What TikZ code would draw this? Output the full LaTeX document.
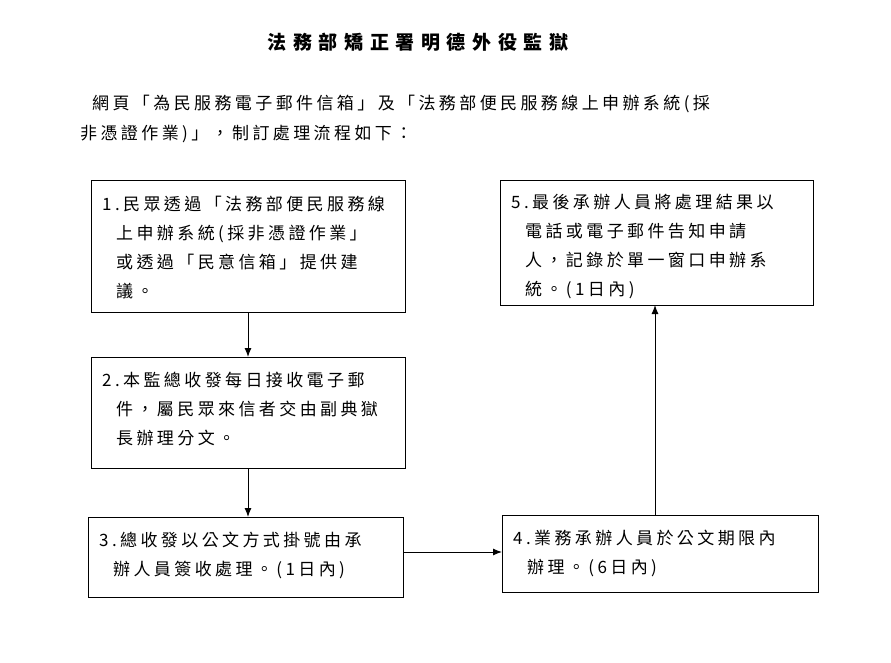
\documentclass[tikz,border=0pt]{standalone}
\usepackage{fontspec}
\usetikzlibrary{arrows.meta}
\newfontfamily\cjk[LetterSpace=20]{Noto Sans CJK TC}
\newfontfamily\cjkt[LetterSpace=35]{Noto Sans CJK TC}
\begin{document}
\begin{tikzpicture}[x=1pt,y=-1pt,
  box/.style={draw,line width=0.9pt},
  txt/.style={anchor=north west,align=left,inner sep=0pt,font=\cjk\fontsize{17}{29}\selectfont},
  arr/.style={-{Latex[length=9pt,width=7pt]},line width=1pt}]
\useasboundingbox (0,0) rectangle (891,663);
\node[font=\cjkt\fontsize{19}{22}\selectfont\bfseries] (title) at (418,42) {法務部矯正署明德外役監獄};
\node[txt,anchor=west] (intro1) at (92,104) {網頁「為民服務電子郵件信箱」及「法務部便民服務線上申辦系統(採};
\node[txt,anchor=west] (intro2) at (80,134) {非憑證作業)」，制訂處理流程如下：};
\draw[box] (91,180) rectangle (405,312);
\coordinate (b1b) at (248,312);
\node[txt] (t1) at (102,196) {1.民眾透過「法務部便民服務線\\\hspace*{14pt}上申辦系統(採非憑證作業」\\\hspace*{14pt}或透過「民意信箱」提供建\\\hspace*{14pt}議。};
\draw[box] (91,357) rectangle (405,468);
\coordinate (b2t) at (248,357); \coordinate (b2b) at (248,468);
\node[txt] (t2) at (102,372) {2.本監總收發每日接收電子郵\\\hspace*{14pt}件，屬民眾來信者交由副典獄\\\hspace*{14pt}長辦理分文。};
\draw[box] (88,517) rectangle (403,597);
\coordinate (b3t) at (248,517); \coordinate (b3r) at (403,552);
\node[txt] (t3) at (99,532) {3.總收發以公文方式掛號由承\\\hspace*{14pt}辦人員簽收處理。(1日內)};
\draw[box] (502,515) rectangle (818,592);
\coordinate (b4l) at (502,552); \coordinate (b4t) at (655,515);
\node[txt] (t4) at (513,530) {4.業務承辦人員於公文期限內\\\hspace*{14pt}辦理。(6日內)};
\draw[box] (500,180) rectangle (813,305);
\coordinate (b5b) at (655,305);
\node[txt] (t5) at (511,194) {5.最後承辦人員將處理結果以\\\hspace*{14pt}電話或電子郵件告知申請\\\hspace*{14pt}人，記錄於單一窗口申辦系\\\hspace*{14pt}統。(1日內)};
\draw[arr] (b1b) -- (b2t);
\draw[arr] (b2b) -- (b3t);
\draw[arr] (b3r) -- (b4l);
\draw[arr] (b4t) -- (b5b);
\end{tikzpicture}
\end{document}
